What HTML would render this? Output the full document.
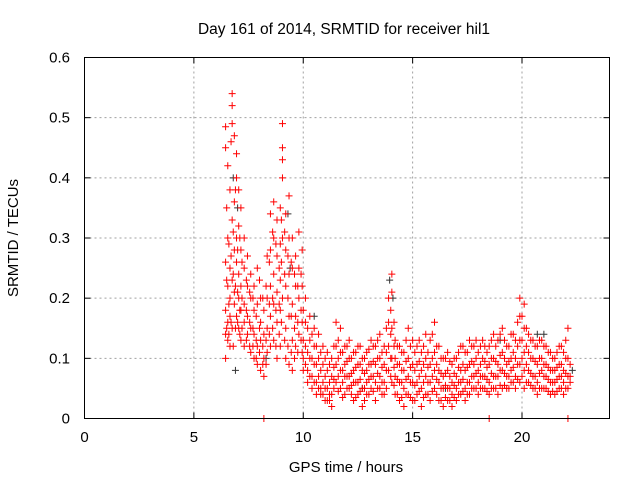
<!DOCTYPE html>
<html><head><meta charset="utf-8"><style>
body{margin:0;background:#fff}
svg{display:block;font-family:"Liberation Sans",sans-serif;font-size:15px}
</style></head><body>
<svg id="chart" width="640" height="480">
<text x="344" y="34" text-anchor="middle" font-size="15.5">Day 161 of 2014, SRMTID for receiver hil1</text>
<text x="346" y="472" text-anchor="middle">GPS time / hours</text>
<text transform="translate(18,238) rotate(-90)" text-anchor="middle">SRMTID / TECUs</text>
<g id="grid"></g><g id="ticks"></g><g id="black"></g><g id="red"></g>
<rect x="84.5" y="57.5" width="525" height="361" fill="none" stroke="#000"/>
</svg>
<script>
const xTicks=[0,5,10,15,20];
const yTicks=[0,0.1,0.2,0.3,0.4,0.5,0.6];
const yTickLabels=["0","0.1","0.2","0.3","0.4","0.5","0.6"];
const redTimes=[6.45,6.55,6.65,6.75,6.85,6.95,7.05,7.15,7.3,7.45,7.6,7.75,7.9,8.05,8.2,8.35,8.5,8.65,8.8,8.95,9.05,9.2,9.35,9.5,9.65,9.8,9.95,10.1,10.3,10.5,10.7,10.9,11.1,11.3,11.5,11.7,11.9,12.1,12.3,12.5,12.7,12.9,13.1,13.3,13.5,13.7,13.9,14.05,14.2,14.4,14.6,14.8,15.0,15.2,15.4,15.6,15.8,16.0,16.2,16.4,16.6,16.8,17.0,17.2,17.4,17.6,17.8,18.0,18.2,18.5,18.7,18.9,19.1,19.3,19.5,19.7,19.9,20.1,20.3,20.5,20.7,20.9,21.1,21.3,21.5,21.7,21.9,22.1];
const redValues=[[0.485,0.45,0.26,0.18,0.14,0.1],[0.42,0.3,0.22,0.16,0.13],[0.38,0.25,0.2,0.17,0.12],[0.54,0.52,0.49,0.33,0.23,0.15],[0.47,0.36,0.28,0.21,0.19],[0.44,0.4,0.3,0.26,0.17],[0.38,0.32,0.24,0.2,0.15],[0.35,0.28,0.22,0.18,0.13],[0.3,0.25,0.19,0.16,0.12],[0.27,0.22,0.17,0.14],[0.24,0.2,0.15,0.11],[0.22,0.18,0.14,0.1],[0.25,0.19,0.12,0.09],[0.2,0.16,0.13,0.08],[0.18,0.14,0.1,0.07,0],[0.27,0.2,0.15,0.11],[0.34,0.28,0.22,0.17,0.12],[0.36,0.3,0.24,0.19,0.13],[0.33,0.27,0.21,0.16,0.1],[0.35,0.29,0.23,0.18,0.12],[0.49,0.45,0.43,0.4,0.3,0.2],[0.34,0.28,0.22,0.15,0.1],[0.37,0.3,0.24,0.17,0.09],[0.3,0.25,0.19,0.13,0.08],[0.27,0.22,0.17,0.12],[0.31,0.25,0.2,0.14],[0.28,0.22,0.16,0.11],[0.2,0.16,0.12,0.09],[0.17,0.13,0.1,0.07],[0.15,0.12,0.09,0.06],[0.14,0.1,0.07,0.05],[0.12,0.09,0.06,0.04],[0.11,0.08,0.05,0.03],[0.1,0.07,0.04,0.02],[0.16,0.12,0.09,0.06],[0.15,0.11,0.08,0.05],[0.12,0.09,0.07,0.04],[0.13,0.1,0.07,0.05],[0.11,0.08,0.06,0.03],[0.12,0.09,0.06,0.04],[0.1,0.08,0.05,0.02],[0.11,0.08,0.06,0.04],[0.13,0.09,0.07,0.05],[0.12,0.09,0.06,0.03],[0.14,0.1,0.07,0.05],[0.12,0.09,0.06,0.04],[0.2,0.16,0.12,0.08],[0.24,0.21,0.15,0.1,0.06],[0.13,0.1,0.07,0.04],[0.12,0.09,0.06,0.03],[0.11,0.08,0.05,0.02],[0.15,0.1,0.07,0.04],[0.13,0.09,0.06,0.03],[0.12,0.09,0.06,0.04],[0.11,0.08,0.05,0.02],[0.14,0.1,0.07,0.04],[0.13,0.09,0.06,0.03],[0.16,0.11,0.08,0.05],[0.12,0.08,0.06,0.03],[0.1,0.07,0.05,0.02],[0.11,0.08,0.05,0.03],[0.09,0.06,0.04,0.02],[0.1,0.07,0.05,0.03],[0.12,0.08,0.06,0.04],[0.11,0.08,0.05,0.03],[0.13,0.09,0.06,0.04],[0.12,0.09,0.07,0.05],[0.11,0.08,0.06,0.04],[0.13,0.1,0.07,0.05],[0.12,0.09,0.06,0.04,0],[0.14,0.1,0.07,0.05],[0.13,0.09,0.07,0.04],[0.15,0.11,0.08,0.05],[0.12,0.09,0.07,0.05],[0.14,0.1,0.08,0.06],[0.13,0.1,0.07,0.05],[0.2,0.17,0.13,0.09,0.06],[0.19,0.15,0.11,0.08,0.05],[0.14,0.11,0.08,0.06],[0.13,0.1,0.07,0.05],[0.12,0.09,0.06,0.04],[0.13,0.1,0.08,0.05],[0.12,0.09,0.07,0.05],[0.11,0.08,0.06,0.04],[0.1,0.08,0.06,0.04],[0.12,0.09,0.07,0.05],[0.11,0.08,0.06,0.04],[0.15,0.1,0.07,0.05,0]];
const redTimes2=[6.5,6.6,6.7,6.8,6.9,7.0,7.1,7.2,7.4,7.55,7.7,7.85,8.0,8.15,8.3,8.45,8.6,8.75,8.9,9.0,9.15,9.3,9.45,9.6,9.75,9.9,10.0,10.2,10.4,10.6,10.8,11.0,11.2,11.4,11.6,11.8,12.0,12.2,12.4,12.6,12.8,13.0,13.2,13.4,13.6,13.8,14.0,14.15,14.3,14.5,14.7,14.9,15.1,15.3,15.5,15.7,15.9,16.1,16.3,16.5,16.7,16.9,17.1,17.3,17.5,17.7,17.9,18.1,18.3,18.4,18.6,18.8,19.0,19.2,19.4,19.6,19.8,20.0,20.2,20.4,20.6,20.8,21.0,21.2,21.4,21.6,21.8,22.0,22.2];
const redValues2=[[0.35,0.23,0.15],[0.29,0.19,0.14],[0.46,0.27,0.16],[0.31,0.24,0.12],[0.38,0.22,0.15],[0.28,0.21,0.16],[0.3,0.18,0.14],[0.26,0.2,0.15],[0.23,0.18,0.13],[0.21,0.16,0.12],[0.2,0.15,0.12],[0.17,0.13,0.1],[0.23,0.15,0.11],[0.2,0.12,0.09],[0.22,0.13,0.09],[0.26,0.19,0.14],[0.31,0.2,0.15],[0.29,0.18,0.12],[0.25,0.19,0.14],[0.33,0.26,0.16],[0.31,0.24,0.13],[0.27,0.2,0.12],[0.26,0.17,0.11],[0.24,0.15,0.1],[0.22,0.16,0.11],[0.24,0.18,0.13],[0.18,0.13,0.1,0.08],[0.15,0.11,0.08,0.06],[0.14,0.1,0.07,0.05],[0.12,0.09,0.06,0.04],[0.11,0.08,0.05,0.04],[0.1,0.07,0.05,0.03],[0.09,0.06,0.04,0.03],[0.12,0.085,0.065,0.05],[0.13,0.1,0.07,0.045],[0.11,0.08,0.06,0.035],[0.12,0.095,0.07,0.05],[0.1,0.075,0.055,0.04],[0.11,0.085,0.06,0.035],[0.12,0.09,0.065,0.045],[0.1,0.075,0.05,0.03],[0.115,0.09,0.065,0.04],[0.12,0.095,0.07,0.045],[0.13,0.1,0.075,0.05],[0.11,0.085,0.06,0.04],[0.15,0.11,0.08,0.05],[0.18,0.14,0.1,0.07],[0.16,0.12,0.085,0.055],[0.12,0.09,0.065,0.04],[0.11,0.08,0.06,0.035],[0.13,0.095,0.065,0.04],[0.12,0.085,0.06,0.035],[0.11,0.08,0.055,0.03],[0.13,0.095,0.07,0.045],[0.12,0.09,0.06,0.035],[0.11,0.085,0.06,0.04],[0.14,0.1,0.07,0.045],[0.12,0.09,0.065,0.04],[0.1,0.075,0.05,0.03],[0.1,0.075,0.055,0.035],[0.095,0.07,0.05,0.03],[0.1,0.075,0.055,0.035],[0.11,0.085,0.06,0.04],[0.12,0.09,0.065,0.045],[0.11,0.085,0.06,0.04],[0.12,0.095,0.07,0.05],[0.13,0.1,0.075,0.05],[0.12,0.09,0.07,0.05],[0.12,0.095,0.07,0.05],[0.11,0.085,0.065,0.045],[0.13,0.1,0.075,0.05],[0.12,0.095,0.07,0.05],[0.14,0.105,0.08,0.055],[0.13,0.1,0.075,0.055],[0.12,0.095,0.07,0.05],[0.14,0.11,0.085,0.06],[0.16,0.12,0.09,0.065],[0.17,0.13,0.1,0.07],[0.15,0.12,0.09,0.06],[0.13,0.1,0.075,0.055],[0.12,0.095,0.07,0.05],[0.13,0.1,0.075,0.05],[0.12,0.09,0.07,0.05],[0.11,0.085,0.065,0.045],[0.1,0.08,0.06,0.045],[0.11,0.085,0.065,0.045],[0.12,0.09,0.07,0.05],[0.13,0.1,0.075,0.05],[0.09,0.07,0.06]];
const blackTimes=[6.8,6.9,7.0,8.3,9.3,9.4,10.5,12.7,13.95,14.1,16.5,19.0,20.7,21.0,22.3];
const blackValues=[0.4,0.08,0.35,0.1,0.34,0.25,0.17,0.05,0.23,0.2,0.05,0.13,0.14,0.14,0.08];
const NS="http://www.w3.org/2000/svg";
const X0=84.5,X1=609.5,Y0=418.5,Y1=57.5;
function sx(t){return X0+t/24*(X1-X0);}
function sy(v){return Y0-v/0.6*(Y0-Y1);}
function mk(tag,attrs,parent){const e=document.createElementNS(NS,tag);for(const k in attrs)e.setAttribute(k,attrs[k]);parent.appendChild(e);return e;}
const grid=document.getElementById('grid'),ticks=document.getElementById('ticks');
yTicks.forEach((v,i)=>{const y=sy(v);
 if(i>0&&i<yTicks.length-1){const l=mk('line',{x1:X0,x2:X1,y1:y,y2:y,stroke:'#a0a0a0','stroke-dasharray':'2,3'},grid);
 
 }
 mk('line',{x1:X0,x2:X0+6,y1:y,y2:y,stroke:'#000'},ticks);
 mk('line',{x1:X1,x2:X1-6,y1:y,y2:y,stroke:'#000'},ticks);
 const t=mk('text',{x:70,y:y+5,'text-anchor':'end'},ticks);t.textContent=yTickLabels[i];
 
 });
xTicks.forEach(v=>{const x=sx(v);
 if(v>0){const l=mk('line',{x1:x,x2:x,y1:Y0,y2:Y1,stroke:'#a0a0a0','stroke-dasharray':'2,3'},grid);
 
 }
 mk('line',{x1:x,x2:x,y1:Y0,y2:Y0-6,stroke:'#000'},ticks);
 mk('line',{x1:x,x2:x,y1:Y1,y2:Y1+6,stroke:'#000'},ticks);
 const t=mk('text',{x:x,y:442,'text-anchor':'middle'},ticks);t.textContent=String(v);
 
 });
function plus(t,v,color,g){const x=sx(t),y=sy(v);
 const p=mk('path',{d:`M${x-3.5} ${y}H${x+3.5}M${x} ${y-3.5}V${y+3.5}`,stroke:color,'stroke-width':1,fill:'none'},g);
 
 }
const bg=document.getElementById('black'),rg=document.getElementById('red');
blackTimes.forEach((t,i)=>plus(t,blackValues[i],'#333',bg));
redTimes.forEach((t,i)=>redValues[i].forEach(v=>plus(t,v,'#ff0000',rg)));
redTimes2.forEach((t,i)=>redValues2[i].forEach(v=>plus(t,v,'#ff0000',rg)));
</script>
</body></html>
